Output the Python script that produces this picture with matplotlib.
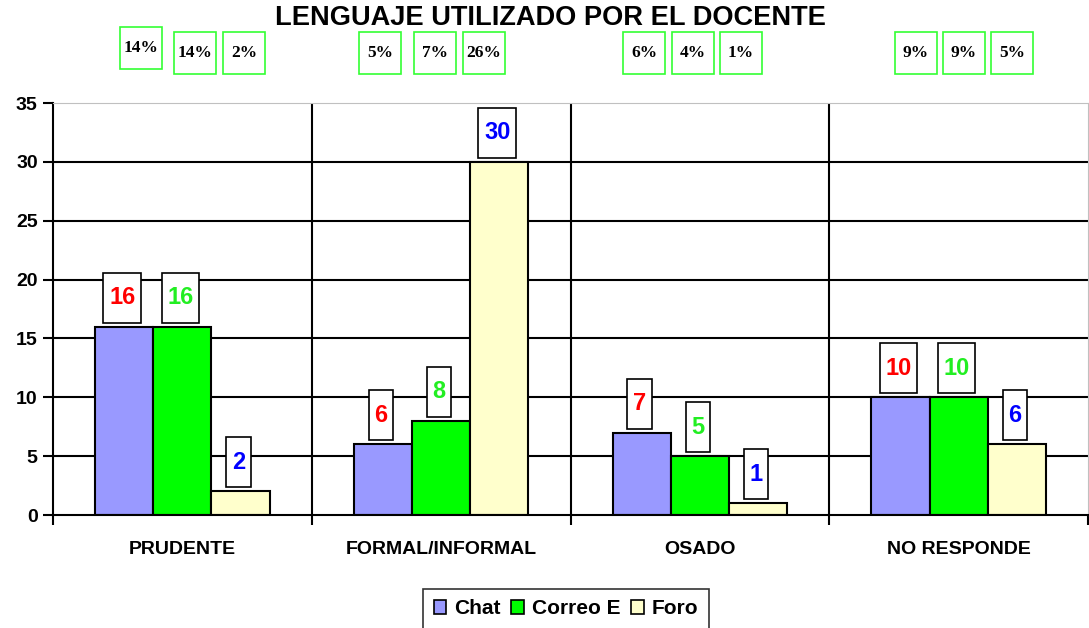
import matplotlib.pyplot as plt
from matplotlib.path import Path
import numpy as np

plt.rcParams['font.family'] = ['Liberation Sans', 'DejaVu Sans']

categorias = ['PRUDENTE', 'FORMAL/INFORMAL', 'OSADO', 'NO RESPONDE']
chat = [16, 6, 7, 10]
correo = [16, 8, 5, 10]
foro = [2, 30, 1, 6]
porcentajes = [['14%', '14%', '2%'],
               ['5%', '7%', '26%'],
               ['6%', '4%', '1%'],
               ['9%', '9%', '5%']]

series = [('Chat', chat, '#9999FF', '#FF0000'),
          ('Correo E', correo, '#00FF00', '#22EE22'),
          ('Foro', foro, '#FFFFCC', '#0000FF')]

# posiciones (pixeles de la figura) de las cajas de porcentaje
pct_x = [[141, 195, 244], [380, 435, 484], [644, 693, 741], [916, 964, 1012]]
pct_y = [[48, 53, 53], [53, 53, 53], [53, 53, 53], [53, 53, 53]]

W, H = 1089, 628
fig = plt.figure(figsize=(W / 100, H / 100), dpi=100)
ax = fig.add_axes([53 / W, 1 - 515 / H, 1035 / W, 412 / H])


def caja_valor(x0, y0, width, height, mutation_size):
    # caja alta, ancho segun el texto
    cx, cy = x0 + width / 2, y0 + height / 2
    hw = width / 2 + 0.24 * mutation_size
    hh = 1.06 * mutation_size
    return Path([(cx - hw, cy - hh), (cx + hw, cy - hh), (cx + hw, cy + hh),
                 (cx - hw, cy + hh), (cx - hw, cy - hh)], closed=True)


def caja_pct(x0, y0, width, height, mutation_size):
    cx, cy = x0 + width / 2, y0 + height / 2
    h = 1.2 * mutation_size
    return Path([(cx - h, cy - h), (cx + h, cy - h), (cx + h, cy + h),
                 (cx - h, cy + h), (cx - h, cy - h)], closed=True)


x = np.arange(len(categorias)) + 0.5
ancho = 0.225
for i, (nombre, vals, color, col_txt) in enumerate(series):
    pos = x + (i - 1) * ancho
    ax.bar(pos, vals, ancho, color=color, edgecolor='black', linewidth=1.5,
           label=nombre, zorder=3)
    for p, v in zip(pos, vals):
        ax.annotate(str(v), (p, v), xytext=(-2, 29), textcoords='offset pixels',
                    ha='center', va='center', fontsize=17, fontweight='bold',
                    color=col_txt, zorder=5,
                    bbox=dict(boxstyle=caja_valor, fc='white', ec='black', lw=1.2))

ax.set_xlim(0, 4)
ax.set_ylim(0, 35)
ax.set_yticks(range(0, 36, 5))
ax.set_xticks(x)
ax.set_xticklabels(categorias)
ax.tick_params(axis='x', length=0, pad=19)
ax.set_xticks([0, 1, 2, 3, 4], minor=True)
ax.tick_params(axis='x', which='minor', length=7, width=1.5, direction='out')
ax.tick_params(axis='y', length=7, width=1.5, direction='out', pad=4)
for lab in ax.get_xticklabels():
    lab.set_fontsize(14)
    lab.set_fontweight('bold')
for lab in ax.get_yticklabels():
    lab.set_fontsize(14)
    lab.set_fontweight('bold')

for yv in range(5, 35, 5):
    ax.axhline(yv, color='black', lw=1.5, zorder=1)
for xv in [1, 2, 3]:
    ax.axvline(xv, color='black', lw=1.5, zorder=1)

ax.spines['left'].set_linewidth(1.5)
ax.spines['bottom'].set_linewidth(1.5)
ax.spines['bottom'].set_zorder(4)
ax.spines['top'].set_color('#C0C0C0')
ax.spines['right'].set_color('#C0C0C0')

fig.text(550 / W, 1 - 18 / H, 'LENGUAJE UTILIZADO POR EL DOCENTE',
         ha='center', va='center', fontsize=19.6, fontweight='bold')

for g, fila in enumerate(porcentajes):
    for j, txt in enumerate(fila):
        fig.text(pct_x[g][j] / W, 1 - pct_y[g][j] / H, txt, ha='center', va='center',
                 fontsize=12.5, fontweight='bold', family=['Liberation Serif'],
                 bbox=dict(boxstyle=caja_pct, fc='white', ec='#33FF33', lw=1.2))

leg = ax.legend(loc='upper center', bbox_to_anchor=(566 / W, 1 - 589 / H),
                bbox_transform=fig.transFigure, ncol=3, frameon=True, fancybox=False,
                edgecolor='black', prop={'size': 15, 'weight': 'bold'},
                handlelength=0.6, handleheight=0.6, handletextpad=0.4,
                columnspacing=0.5, borderpad=0.5, borderaxespad=0)
leg.get_frame().set_linewidth(1.2)
for h in leg.legend_handles:
    h.set_linewidth(1.2)

fig.savefig('out.png', dpi=100)
